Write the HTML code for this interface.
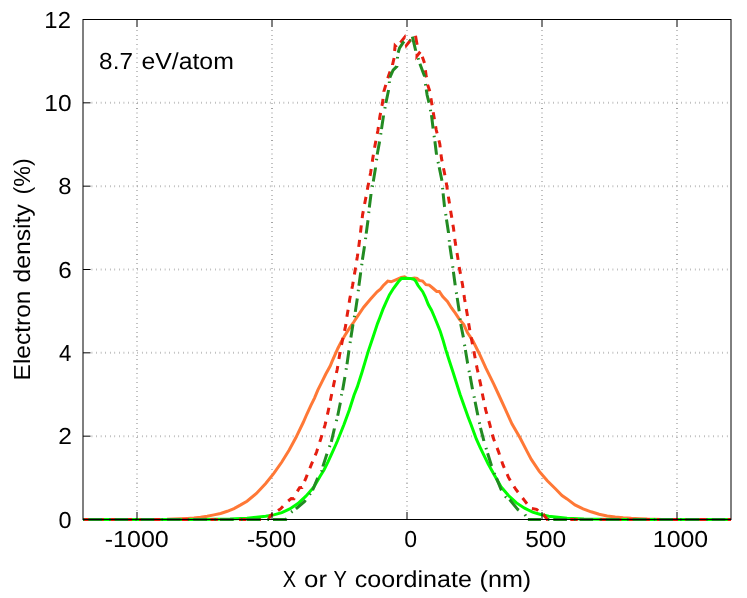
<!DOCTYPE html>
<html>
<head>
<meta charset="utf-8">
<title>Electron density</title>
<style>
html, body { margin: 0; padding: 0; background: #ffffff; }
body { width: 747px; height: 598px; overflow: hidden; font-family: "Liberation Sans", sans-serif; }
svg { display: block; will-change: transform; transform: translateZ(0); }
</style>
</head>
<body>
<svg width="747" height="598" viewBox="0 0 747 598">
<rect x="0" y="0" width="747" height="598" fill="#ffffff"/>
<g stroke="#868686" stroke-width="2" stroke-dasharray="0.52 4.05" fill="none">
<path d="M91.70,436.17 H730.00"/>
<path d="M91.70,352.83 H730.00"/>
<path d="M91.70,269.50 H730.00"/>
<path d="M91.70,186.17 H730.00"/>
<path d="M91.70,102.83 H730.00"/>
<path d="M137.00,510.80 V26.50"/>
<path d="M272.00,510.80 V26.50"/>
<path d="M407.00,510.80 V26.50"/>
<path d="M542.00,510.80 V26.50"/>
<path d="M677.00,510.80 V26.50"/>
</g>
<path d="M83.0,519.5 L150.0,519.4 L167.1,519.3 L173.8,519.1 L180.5,518.8 L187.2,518.4 L193.9,517.9 L200.5,517.2 L207.2,516.3 L213.9,514.9 L220.6,513.5 L227.3,511.3 L234.0,508.6 L240.7,504.9 L247.0,501.2 L256.4,493.5 L265.7,483.5 L273.8,473.4 L281.8,462.0 L289.2,450.0 L295.8,437.8 L303.2,422.5 L306.9,414.0 L310.9,405.4 L314.5,398.1 L317.8,390.1 L321.8,382.1 L325.8,374.0 L330.2,366.0 L332.1,361.4 L335.3,354.1 L337.8,348.5 L341.0,342.1 L345.0,335.3 L349.8,327.6 L353.8,322.0 L357.3,316.6 L363.7,307.2 L370.4,299.2 L377.1,291.8 L380.4,289.1 L383.1,285.8 L387.8,281.1 L391.1,281.8 L395.8,279.8 L401.3,277.5 L404.6,276.8 L406.8,278.2 L412.0,278.5 L414.5,278.0 L417.0,278.4 L419.2,280.4 L422.6,281.1 L425.9,284.7 L429.3,285.1 L433.3,288.5 L436.7,291.4 L439.3,291.4 L442.7,296.5 L447.4,301.4 L451.5,308.0 L455.5,313.4 L458.9,318.6 L463.8,324.6 L467.4,332.5 L472.5,340.1 L479.2,353.5 L485.9,368.2 L493.9,384.3 L499.5,396.5 L504.6,407.7 L511.9,423.8 L520.0,437.8 L527.3,451.9 L531.3,459.4 L539.3,471.4 L547.3,480.8 L555.4,488.8 L562.0,495.5 L567.0,498.9 L575.0,504.9 L583.1,508.9 L591.1,511.8 L599.1,514.3 L607.2,515.9 L615.2,516.9 L623.2,517.7 L631.3,518.3 L639.3,518.7 L647.3,519.1 L662.0,519.4 L731.0,519.5" stroke="#ff7836" stroke-width="3" fill="none" stroke-linejoin="miter" stroke-linecap="butt"/>
<path d="M83.0,519.5 L200.0,519.4 L230.0,519.0 L247.0,518.3 L256.4,517.3 L265.7,516.3 L273.8,514.9 L281.8,512.6 L289.8,508.9 L297.9,503.5 L305.9,496.2 L313.9,487.0 L320.1,476.2 L324.1,469.7 L328.1,461.7 L332.1,452.9 L336.1,444.0 L337.6,440.5 L344.0,424.5 L349.4,409.7 L354.1,395.0 L357.3,386.9 L362.0,372.2 L368.0,352.1 L373.4,336.1 L377.5,323.6 L379.7,318.0 L382.9,309.4 L386.1,302.1 L389.4,294.9 L393.4,288.5 L398.2,282.0 L401.4,278.5 L405.5,278.3 L409.8,278.4 L413.8,279.2 L415.8,281.2 L417.9,285.3 L422.7,291.7 L425.1,296.5 L428.3,304.5 L431.5,310.2 L433.6,315.0 L436.5,322.0 L440.1,330.9 L442.9,339.7 L445.9,350.1 L449.3,360.8 L452.9,371.7 L456.3,382.5 L460.1,394.4 L464.1,405.7 L468.1,416.9 L471.0,424.5 L476.4,439.2 L480.1,447.3 L484.1,455.7 L488.1,463.7 L492.1,471.0 L494.6,475.5 L501.0,486.8 L508.5,495.5 L516.5,502.9 L524.6,508.2 L532.6,512.2 L540.6,514.5 L548.7,516.3 L558.0,517.3 L567.0,518.3 L584.0,519.0 L614.0,519.4 L731.0,519.5" stroke="#00ff00" stroke-width="3" fill="none" stroke-linejoin="miter" stroke-linecap="butt"/>
<path d="M83.0,519.5 L89.5,519.5 M96.6,519.5 L103.7,519.5 M110.8,519.5 L117.9,519.5 M125.0,519.5 L132.1,519.5 M139.2,519.5 L146.2,519.5 M153.4,519.5 L160.5,519.5 M167.6,519.5 L174.8,519.5 M181.9,519.5 L189.1,519.5 M196.2,519.5 L203.4,519.5 M210.5,519.5 L217.7,519.5 M224.8,519.5 L232.0,519.5 M239.1,519.5 L246.3,519.5 M253.4,519.5 L260.9,519.5 M268.6,519.1 L270.4,515.6 L272.9,513.9 M278.0,510.6 L280.5,508.9 L283.0,506.2 M288.2,501.0 L291.2,498.6 L294.0,498.8 L294.3,498.2 M297.3,491.4 L299.6,487.6 L302.0,487.5 L302.1,487.3 M304.6,481.2 L305.9,478.1 L307.2,474.8 M309.9,468.2 L311.3,464.7 L312.6,461.7 M315.2,455.3 L316.6,452.0 L317.6,448.7 M319.8,441.9 L320.9,438.5 L321.9,435.1 M324.0,428.4 L325.0,425.1 L325.8,421.6 M327.4,414.6 L328.2,411.1 L328.9,407.7 M330.3,400.8 L331.0,397.5 L331.7,394.0 M333.2,387.1 L333.9,383.6 L334.7,380.1 M336.4,373.0 L337.2,369.5 L337.8,366.0 M338.9,359.0 L339.5,355.5 L340.2,352.0 M341.5,344.9 L342.2,341.4 L343.0,337.9 M344.5,330.9 L345.3,327.4 L345.9,323.9 M346.9,316.8 L347.5,313.3 L348.1,309.8 M349.2,302.7 L349.7,299.2 L350.4,295.7 M351.9,288.7 L352.6,285.2 L353.2,281.7 M354.4,274.6 L355.0,271.1 L355.6,267.6 M356.7,260.5 L357.3,257.0 L357.8,253.6 M358.7,246.9 L359.1,244.0 L359.6,239.9 M360.5,232.6 L360.9,228.9 L361.3,225.3 M362.2,218.2 L362.6,214.6 L363.3,211.1 M364.6,204.0 L365.3,200.5 L366.0,196.9 M367.3,189.8 L368.0,186.3 L368.7,182.8 M370.0,175.9 L370.6,172.7 L371.2,168.9 M372.3,161.8 L372.8,158.2 L373.4,154.7 M374.6,147.8 L375.2,144.3 L375.9,140.8 M377.2,133.9 L377.9,130.5 L378.4,127.0 M379.4,119.9 L379.9,116.4 L380.6,112.9 M381.9,105.9 L382.6,102.4 L383.0,98.8 M383.8,91.7 L383.8,91.6 L385.8,84.9 M387.8,78.2 L388.5,76.0 L390.1,71.5 M392.5,64.9 L392.5,64.8 L394.1,58.0 M394.6,51.0 L395.1,45.8 L396.6,47.3 M400.4,42.6 L404.5,37.4 L404.6,37.9 M406.2,44.4 L406.4,45.4 L410.2,40.6 L410.9,40.9 M415.5,35.8 L417.1,44.7 M417.1,53.7 L417.0,55.9 L420.3,51.8 M422.3,56.7 L424.5,62.9 M425.4,70.2 L426.3,76.9 L426.4,77.4 M427.6,84.5 L427.7,84.9 L429.7,91.0 L429.8,91.3 M430.9,98.2 L431.5,101.7 L432.1,105.2 M433.2,112.2 L433.8,115.7 L434.4,119.2 M435.6,126.3 L436.2,129.8 L437.1,133.3 M438.9,140.4 L439.8,143.9 L440.2,147.4 M441.0,154.4 L441.4,157.9 L442.1,161.4 M443.5,168.3 L444.3,172.0 L444.9,175.3 M446.2,182.5 L446.8,186.1 L447.3,189.6 M448.4,196.6 L448.9,200.1 L449.5,203.6 M450.6,210.7 L451.2,214.2 L451.8,217.7 M452.9,224.7 L453.5,228.2 L453.9,231.7 M454.8,238.8 L455.2,242.3 L455.8,245.8 M457.0,252.9 L457.6,256.4 L458.1,259.9 M459.2,266.9 L459.8,270.4 L460.5,273.9 M461.8,281.0 L462.5,284.5 L463.0,288.0 M464.0,295.0 L464.5,298.5 L465.1,302.0 M466.3,309.1 L466.9,312.6 L467.5,316.1 M468.6,323.2 L469.2,326.7 L469.8,330.2 M471.1,337.2 L471.8,340.7 L472.5,344.2 M473.8,351.3 L474.5,354.8 L475.2,358.3 M476.5,365.4 L477.2,368.9 L478.0,372.4 M479.5,379.4 L480.3,382.9 L481.0,386.4 M482.3,393.5 L483.0,397.0 L483.7,400.3 M485.1,407.0 L485.8,410.4 L486.8,413.9 M488.8,421.0 L489.8,424.5 L490.6,427.8 M492.3,434.5 L493.2,437.8 L494.5,441.2 M497.1,447.9 L498.5,451.6 L499.5,454.6 M501.8,461.4 L502.9,464.7 L504.3,467.9 M507.1,474.2 L508.5,477.4 L510.3,480.4 M514.0,486.5 L515.9,489.5 L518.1,492.3 M522.6,498.0 L524.8,500.9 L527.0,503.7 M531.9,508.5 L536.5,509.3 L538.2,510.6 M543.3,514.4 L543.5,514.5 L547.3,519.5 L547.8,519.5 M555.3,519.5 L562.8,519.5 M570.3,519.5 L577.7,519.5 M585.0,519.5 L592.3,519.5 M599.6,519.5 L606.9,519.5 M614.1,519.5 L621.4,519.5 M628.6,519.5 L635.7,519.5 M642.7,519.5 L649.8,519.5 M656.8,519.5 L663.8,519.5 M670.9,519.5 L678.0,519.5 M685.1,519.5 L692.2,519.5 M699.3,519.5 L706.4,519.5 M713.5,519.5 L720.6,519.5 M727.7,519.5 L731.0,519.5" stroke="#e51e10" stroke-width="3" fill="none" stroke-linejoin="miter" stroke-linecap="butt"/>
<path d="M83.0,519.5 L84.4,519.5 M88.4,519.5 L101.9,519.5 M109.1,519.5 L110.6,519.5 M114.6,519.5 L128.1,519.5 M135.3,519.5 L136.8,519.5 M140.8,519.5 L154.3,519.5 M161.5,519.5 L163.0,519.5 M167.0,519.5 L180.5,519.5 M187.7,519.5 L189.2,519.5 M193.2,519.5 L207.0,519.5 M214.4,519.5 L215.9,519.5 M220.0,519.5 L233.7,519.5 M240.9,519.5 L242.5,519.5 M246.5,519.5 L260.2,519.5 M267.4,519.5 L269.0,519.5 M273.0,519.5 L285.8,519.5 L286.6,518.3 M291.2,512.2 L291.2,512.2 L292.4,511.3 M295.9,508.9 L304.6,501.5 L305.5,500.2 M309.6,494.6 L309.9,494.2 L310.4,493.4 M312.6,490.2 L317.3,478.8 L317.8,477.9 M321.4,471.7 L322.0,470.7 L322.1,470.4 M322.9,466.5 L323.0,466.1 L326.9,454.0 L327.0,453.7 M329.4,447.0 L329.9,445.6 M331.3,441.9 L334.4,428.5 L334.4,428.4 M336.3,421.2 L336.7,419.7 M337.7,415.7 L340.3,403.0 L340.4,402.6 M341.4,395.6 L341.5,395.0 L341.7,394.1 M342.6,390.3 L344.9,376.9 L344.9,376.9 M346.1,369.7 L346.3,368.2 M347.0,364.2 L348.9,350.8 L349.0,350.4 M350.1,343.0 L350.3,341.5 M350.9,337.4 L352.9,324.7 L353.0,324.2 M354.3,317.2 L354.6,315.8 M355.3,311.9 L357.3,298.5 L357.3,298.5 M358.2,291.3 L358.4,289.8 M358.9,285.8 L360.7,272.4 L360.7,272.4 M361.7,265.2 L361.9,263.7 M362.4,259.7 L364.5,246.3 L364.5,246.3 M365.5,239.1 L365.7,237.6 M366.2,233.6 L368.0,220.2 L368.0,220.2 M368.7,213.0 L368.9,211.5 M369.3,207.5 L371.0,194.1 L371.0,194.0 M372.3,186.9 L372.6,185.4 M373.3,181.4 L375.5,168.0 L375.5,167.6 M376.5,160.2 L376.7,158.7 M377.2,154.6 L379.5,141.9 L379.6,141.5 M380.7,134.5 L380.9,133.0 M381.5,129.1 L383.5,115.7 L383.5,115.6 M384.9,108.5 L385.1,107.0 M385.9,103.0 L388.6,90.0 M389.3,83.0 L389.4,81.5 M389.8,77.6 L393.1,70.2 L396.9,66.4 L396.9,65.9 M397.5,58.5 L397.5,57.9 L397.6,56.9 M398.1,52.8 L399.6,47.9 L402.6,43.4 L404.0,41.4 M409.8,41.3 L410.5,40.1 M412.4,36.7 L412.4,36.7 L415.7,50.6 L415.7,50.8 M418.1,58.1 L418.4,59.0 L418.6,59.6 M419.9,63.7 L419.9,63.7 L423.3,73.0 L424.6,76.2 L424.6,76.7 M425.4,84.0 L425.5,84.7 L425.6,85.5 M426.3,89.5 L427.1,95.0 L428.9,102.4 L429.0,102.7 M430.4,109.7 L430.7,111.2 M431.5,115.1 L431.5,115.1 L433.1,128.5 L433.1,128.6 M434.1,135.7 L434.3,137.2 M434.9,141.2 L434.9,141.2 L436.5,154.6 L436.5,154.7 M438.0,161.9 L438.4,163.3 M439.2,167.3 L439.2,167.3 L441.8,180.0 L441.9,180.7 M442.6,187.9 L442.7,189.4 M443.1,193.4 L443.1,193.4 L444.5,206.4 L444.6,206.9 M445.7,214.0 L445.9,215.5 M446.5,219.5 L446.5,219.5 L448.5,232.7 L448.5,232.9 M449.2,240.1 L449.4,241.6 M449.8,245.6 L449.8,245.7 L451.8,259.1 M452.7,266.3 L452.9,267.8 M453.4,271.8 L453.4,271.8 L455.2,285.2 L455.2,285.3 M456.3,292.4 L456.6,293.9 M457.2,297.9 L457.2,297.9 L459.2,311.3 L459.2,311.3 M460.0,318.5 L460.2,320.0 M460.7,324.0 L460.7,324.0 L463.4,337.4 M464.5,344.6 L464.8,346.1 M465.4,350.1 L465.4,350.1 L467.6,363.2 L467.7,363.5 M469.0,370.6 L469.3,372.1 M470.1,376.0 L470.1,376.0 L472.5,389.3 M474.0,396.3 L474.2,397.0 L474.3,397.8 M475.1,401.7 L475.1,401.7 L477.8,415.1 L477.8,415.2 M479.3,422.3 L479.7,423.8 M480.5,427.8 L480.5,427.8 L483.8,440.5 L483.9,441.0 M486.0,447.9 L486.4,449.3 M487.6,453.2 L487.6,453.2 L491.5,465.8 L491.7,466.2 M494.3,473.0 L494.4,473.4 L494.9,474.4 M496.5,478.1 L496.5,478.1 L501.1,489.5 L501.6,490.3 M505.4,496.2 L505.8,496.9 L506.4,497.3 M509.6,499.5 L509.6,499.5 L517.9,509.6 L518.8,510.2 M524.9,514.5 L525.8,515.9 M527.9,519.5 L527.9,519.5 L541.0,519.5 M548.0,519.5 L549.4,519.5 M553.3,519.5 L566.9,519.5 M574.1,519.5 L575.6,519.5 M579.6,519.5 L593.1,519.5 M600.3,519.5 L601.8,519.5 M605.8,519.5 L619.6,519.5 M627.0,519.5 L628.5,519.5 M632.6,519.5 L646.4,519.5 M653.8,519.5 L655.3,519.5 M659.4,519.5 L672.9,519.5 M680.1,519.5 L681.6,519.5 M685.6,519.5 L699.1,519.5 M706.3,519.5 L707.8,519.5 M711.8,519.5 L725.3,519.5" stroke="#228b22" stroke-width="3" fill="none" stroke-linejoin="miter" stroke-linecap="butt"/>
<g stroke="#000000" stroke-width="1" fill="none">
<path d="M137.00,519.50 v-7.5 M137.00,19.50 v7.5"/>
<path d="M272.00,519.50 v-7.5 M272.00,19.50 v7.5"/>
<path d="M407.00,519.50 v-7.5 M407.00,19.50 v7.5"/>
<path d="M542.00,519.50 v-7.5 M542.00,19.50 v7.5"/>
<path d="M677.00,519.50 v-7.5 M677.00,19.50 v7.5"/>
<path d="M83.00,519.50 h7.5"/>
<path d="M83.00,436.17 h7.5"/>
<path d="M83.00,352.83 h7.5"/>
<path d="M83.00,269.50 h7.5"/>
<path d="M83.00,186.17 h7.5"/>
<path d="M83.00,102.83 h7.5"/>
<path d="M83.00,19.50 h7.5"/>
</g>
<rect x="83.0" y="19.5" width="648.0" height="500.0" fill="none" stroke="#000000" stroke-width="1"/>
<g font-family="'Liberation Sans', sans-serif" font-size="23.2px" fill="#000000" text-rendering="geometricPrecision" style="font-kerning:none">
<text x="58.48" y="527.60" textLength="13.03" lengthAdjust="spacingAndGlyphs">0</text>
<text x="58.16" y="444.27" textLength="13.67" lengthAdjust="spacingAndGlyphs">2</text>
<text x="58.89" y="360.93" textLength="12.36" lengthAdjust="spacingAndGlyphs">4</text>
<text x="58.17" y="277.60" textLength="13.50" lengthAdjust="spacingAndGlyphs">6</text>
<text x="58.36" y="194.27" textLength="13.27" lengthAdjust="spacingAndGlyphs">8</text>
<text x="44.34" y="110.93" textLength="27.22" lengthAdjust="spacingAndGlyphs">10</text>
<text x="44.38" y="27.60" textLength="26.51" lengthAdjust="spacingAndGlyphs">12</text>
<text x="104.79" y="546.60" textLength="63.89" lengthAdjust="spacingAndGlyphs">-1000</text>
<text x="246.91" y="546.60" textLength="49.25" lengthAdjust="spacingAndGlyphs">-500</text>
<text x="404.20" y="546.60" textLength="12.80" lengthAdjust="spacingAndGlyphs">0</text>
<text x="525.17" y="546.60" textLength="40.99" lengthAdjust="spacingAndGlyphs">500</text>
<text x="652.86" y="546.60" textLength="55.26" lengthAdjust="spacingAndGlyphs">1000</text>
<text x="282.85" y="587.20" textLength="13.37" lengthAdjust="spacingAndGlyphs">X</text>
<text x="304.01" y="587.20" textLength="23.02" lengthAdjust="spacingAndGlyphs">or</text>
<text x="333.46" y="587.20" textLength="13.38" lengthAdjust="spacingAndGlyphs">Y</text>
<text x="354.83" y="587.20" textLength="117.08" lengthAdjust="spacingAndGlyphs">coordinate</text>
<text x="479.54" y="587.20" textLength="51.72" lengthAdjust="spacingAndGlyphs">(nm)</text>
<text transform="translate(30.10,378.70) rotate(-90)" x="-1.71" y="0" textLength="89.80" lengthAdjust="spacingAndGlyphs">Electron</text>
<text transform="translate(30.10,281.80) rotate(-90)" x="-0.74" y="0" textLength="78.39" lengthAdjust="spacingAndGlyphs">density</text>
<text transform="translate(30.10,193.30) rotate(-90)" x="-1.14" y="0" textLength="36.19" lengthAdjust="spacingAndGlyphs">(%)</text>
<text x="99.14" y="69.10" textLength="33.78" lengthAdjust="spacingAndGlyphs">8.7</text>
<text x="141.45" y="69.10" textLength="92.39" lengthAdjust="spacingAndGlyphs">eV/atom</text>
</g>
</svg>
</body>
</html>
